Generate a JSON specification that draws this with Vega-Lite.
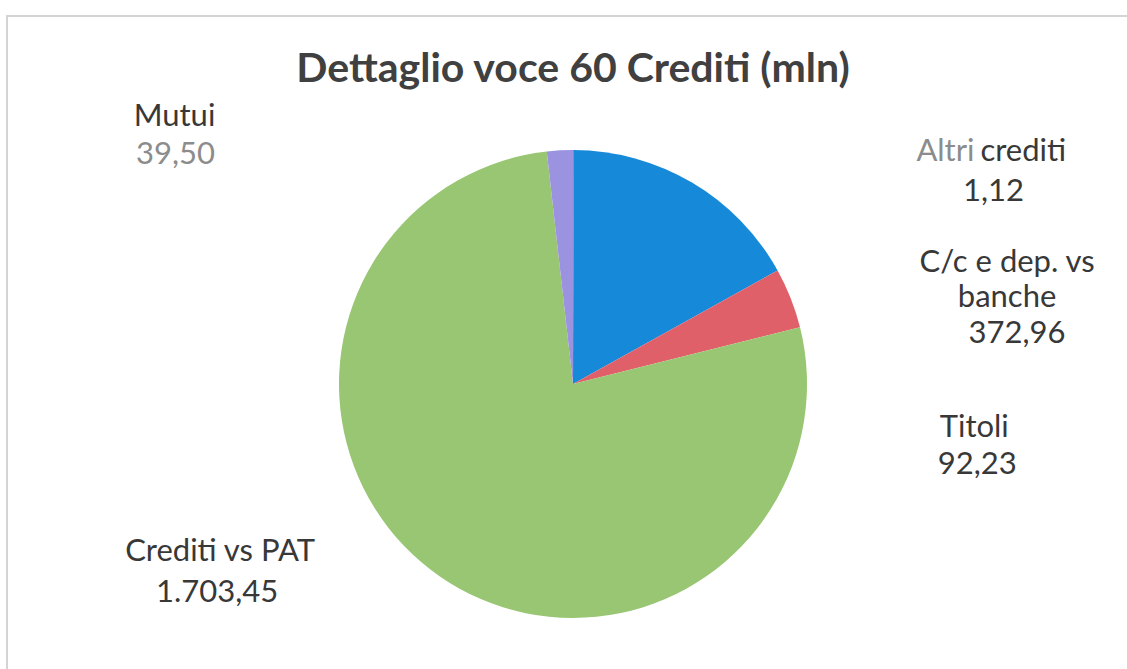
{
  "$schema": "https://vega.github.io/schema/vega-lite/v6.json",
  "autosize": "none",
  "padding": {"left": 7, "top": 16, "right": 0, "bottom": 0},
  "width": 1132,
  "height": 736,
  "background": "white",
  "view": {"stroke": "#d4d4d4", "strokeWidth": 2},
  "title": {
    "text": "Dettaglio voce 60 Crediti (mln)",
    "font": "Lato",
    "fontSize": 41,
    "fontWeight": "bold",
    "color": "#404040",
    "anchor": "middle",
    "baseline": "alphabetic",
    "offset": -107
  },
  "data": {
    "values": [
      {"voce": "Altri crediti", "valore": 1.12, "etichetta": "1,12", "ord": 1},
      {"voce": "C/c e dep. vs banche", "valore": 372.96, "etichetta": "372,96", "ord": 2},
      {"voce": "Titoli", "valore": 92.23, "etichetta": "92,23", "ord": 3},
      {"voce": "Crediti vs PAT", "valore": 1703.45, "etichetta": "1.703,45", "ord": 4},
      {"voce": "Mutui", "valore": 39.5, "etichetta": "39,50", "ord": 5}
    ]
  },
  "encoding": {
    "theta": {"field": "valore", "type": "quantitative", "stack": true},
    "order": {"field": "ord", "type": "quantitative"}
  },
  "layer": [
    {
      "mark": {"type": "arc", "outerRadius": 234},
      "encoding": {
        "color": {
          "field": "voce",
          "type": "nominal",
          "scale": {
            "domain": ["Altri crediti", "C/c e dep. vs banche", "Titoli", "Crediti vs PAT", "Mutui"],
            "range": ["#6f6fc8", "#168ad8", "#e0606a", "#98c673", "#9b92e0"]
          },
          "legend": null
        }
      }
    },
    {
      "mark": {"type": "text", "radius": 240, "dx": 343, "dy": 8, "align": "left", "baseline": "middle", "font": "Lato", "fontSize": 31, "color": "#8c8c8c"},
      "encoding": {"text": {"condition": {"test": "datum.voce === 'Altri crediti'", "value": "Altri"}, "value": ""}}
    },
    {
      "mark": {"type": "text", "radius": 240, "dx": 407, "dy": 8, "align": "left", "baseline": "middle", "font": "Lato", "fontSize": 31, "color": "#383838"},
      "encoding": {"text": {"condition": {"test": "datum.voce === 'Altri crediti'", "value": "crediti"}, "value": ""}}
    },
    {
      "mark": {"type": "text", "radius": 240, "dx": 420, "dy": 48, "align": "center", "baseline": "middle", "font": "Lato", "fontSize": 31, "color": "#383838"},
      "encoding": {"text": {"condition": {"test": "datum.voce === 'Altri crediti'", "field": "etichetta"}, "value": ""}}
    },
    {
      "mark": {"type": "text", "radius": 240, "dx": 312, "dy": 86, "align": "center", "baseline": "middle", "font": "Lato", "fontSize": 31, "lineHeight": 35, "lineBreak": "\n", "color": "#383838"},
      "encoding": {"text": {"condition": {"test": "datum.voce === 'C/c e dep. vs banche'", "value": "C/c e dep. vs\nbanche"}, "value": ""}}
    },
    {
      "mark": {"type": "text", "radius": 240, "dx": 322, "dy": 157, "align": "center", "baseline": "middle", "font": "Lato", "fontSize": 31, "color": "#383838"},
      "encoding": {"text": {"condition": {"test": "datum.voce === 'C/c e dep. vs banche'", "field": "etichetta"}, "value": ""}}
    },
    {
      "mark": {"type": "text", "radius": 240, "dx": 178, "dy": 132, "align": "center", "baseline": "middle", "font": "Lato", "fontSize": 31, "color": "#383838"},
      "encoding": {"text": {"condition": {"test": "datum.voce === 'Titoli'", "field": "voce"}, "value": ""}}
    },
    {
      "mark": {"type": "text", "radius": 240, "dx": 181, "dy": 169, "align": "center", "baseline": "middle", "font": "Lato", "fontSize": 31, "color": "#383838"},
      "encoding": {"text": {"condition": {"test": "datum.voce === 'Titoli'", "field": "etichetta"}, "value": ""}}
    },
    {
      "mark": {"type": "text", "radius": 240, "dx": -216, "dy": -29, "align": "center", "baseline": "middle", "font": "Lato", "fontSize": 31, "color": "#383838"},
      "encoding": {"text": {"condition": {"test": "datum.voce === 'Crediti vs PAT'", "field": "voce"}, "value": ""}}
    },
    {
      "mark": {"type": "text", "radius": 240, "dx": -219, "dy": 12, "align": "center", "baseline": "middle", "font": "Lato", "fontSize": 31, "color": "#383838"},
      "encoding": {"text": {"condition": {"test": "datum.voce === 'Crediti vs PAT'", "field": "etichetta"}, "value": ""}}
    },
    {
      "mark": {"type": "text", "radius": 240, "dx": -385, "dy": -27, "align": "center", "baseline": "middle", "font": "Lato", "fontSize": 31, "color": "#383838"},
      "encoding": {"text": {"condition": {"test": "datum.voce === 'Mutui'", "field": "voce"}, "value": ""}}
    },
    {
      "mark": {"type": "text", "radius": 240, "dx": -384, "dy": 11, "align": "center", "baseline": "middle", "font": "Lato", "fontSize": 31, "color": "#8c8c8c"},
      "encoding": {"text": {"condition": {"test": "datum.voce === 'Mutui'", "field": "etichetta"}, "value": ""}}
    }
  ]
}
